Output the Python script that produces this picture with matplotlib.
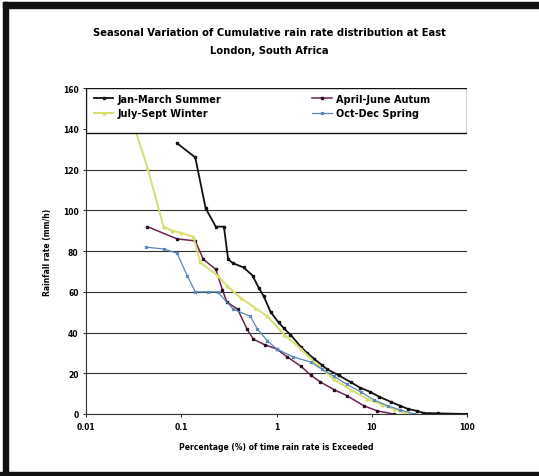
import matplotlib.pyplot as plt
from matplotlib.patches import Rectangle

# cumulative rain rate distribution per season (percentage of time exceeded vs rain rate)
summer_x = [0.09, 0.14, 0.18, 0.23, 0.28, 0.31, 0.35, 0.45, 0.56, 0.65, 0.73, 0.87, 1.05, 1.2, 1.4,
            1.8, 2.1, 2.5, 3.0, 3.4, 4.5, 6.0, 7.5, 9.7, 12, 15.8, 20, 24, 30, 35, 50, 100]
summer_y = [133, 126, 101, 92, 92, 76, 74, 72, 68, 62, 58, 50, 45, 42, 39,
            33, 30, 27, 24, 22, 19, 15.7, 13, 10.8, 8.5, 6, 4, 2.5, 1.5, 0.5, 0.3, 0]

autumn_x = [0.044, 0.09, 0.14, 0.17, 0.23, 0.27, 0.30, 0.39, 0.49, 0.57, 0.75, 1.0, 1.3,
            1.8, 2.3, 2.9, 4.0, 5.5, 8.3, 11.5, 17]
autumn_y = [92, 86, 85, 76, 71, 61, 55, 51.5, 41.7, 36.8, 34, 32, 28,
            23.5, 19, 15.7, 12, 9, 4, 1.5, 0]

winter_x = [0.03, 0.044, 0.065, 0.08, 0.098, 0.134, 0.158, 0.24, 0.30, 0.42, 0.60, 0.80, 1.2,
            1.8, 2.7, 4.0, 6.0, 9.0, 13, 17, 24]
winter_y = [145, 121, 92, 90, 89, 87, 74.5, 68, 63, 57, 52, 48, 39,
            32, 24, 17, 12, 7.4, 4.5, 2.5, 0]

spring_x = [0.042, 0.065, 0.09, 0.115, 0.14, 0.19, 0.24, 0.35, 0.53, 0.63, 0.80, 1.0, 1.5,
            2.3, 3.0, 4.0, 5.5, 7.7, 10.5, 14.7, 20, 28]
spring_y = [82, 81, 79, 68, 60, 60, 60, 51.5, 48, 41.7, 36, 32, 28,
            25.5, 22, 18.6, 14.5, 10.8, 7, 4, 2, 0]

fig = plt.figure(figsize=(5.39, 4.77), dpi=100)
ax = fig.add_axes([0.16, 0.13, 0.706, 0.683])

l1, = ax.plot(summer_x, summer_y, color='#111111', lw=1.3, marker='s', ms=2, label='Jan-March Summer')
l2, = ax.plot(autumn_x, autumn_y, color='#6a2450', lw=1.1, marker='s', ms=2, mfc='#2a1020',
              mec='#2a1020', label='April-June Autum')
l3, = ax.plot(winter_x, winter_y, color='#d9de6c', lw=1.4, marker='^', ms=2, label='July-Sept Winter')
l4, = ax.plot(spring_x, spring_y, color='#5a88b8', lw=0.9, marker='x', ms=2, label='Oct-Dec Spring')

ax.set_xscale('log')
ax.set_xlim(0.01, 100)
ax.set_ylim(0, 160)
ax.set_xticks([0.01, 0.1, 1, 10, 100])
ax.set_xticklabels(['0.01', '0.1', '1', '10', '100'])
ax.set_yticks(range(0, 161, 20))
ax.minorticks_off()
ax.tick_params(labelsize=5.5, length=2, width=0.6)
for lab in ax.get_xticklabels() + ax.get_yticklabels():
    lab.set_fontweight('bold')

ax.yaxis.grid(True, color='#333333', lw=0.8)
ax.set_axisbelow(True)
ax.spines['top'].set_visible(False)
ax.spines['right'].set_visible(False)
ax.spines['left'].set_color('#333333')
ax.spines['bottom'].set_color('#333333')

ax.set_xlabel('Percentage (%) of time rain rate is Exceeded', fontsize=5.5,
              fontweight='bold', labelpad=8)
ax.set_ylabel('Rainfall rate (mm/h)', fontsize=5.5, fontweight='bold', labelpad=8)

# legend box across the top of the plot area
ax.add_patch(Rectangle((0, 0.8625), 1, 0.1375, transform=ax.transAxes, facecolor='white',
                       edgecolor='#111111', lw=1.0, zorder=4))

# two rows: summer/autumn on top, winter/spring below
leg = ax.legend([l1, l3, l2, l4], [l.get_label() for l in (l1, l3, l2, l4)],
                ncol=2, loc='upper left', bbox_to_anchor=(0.01, 0.995),
                fontsize=7, frameon=False, borderaxespad=0,
                handlelength=2.0, handletextpad=0.4, columnspacing=9.4, borderpad=0.4,
                labelspacing=0.45)
leg.set_zorder(5)
for t in leg.get_texts():
    t.set_fontweight('bold')

fig.text(0.5, 0.912, 'Seasonal Variation of Cumulative rain rate distribution at East\nLondon, South Africa',
         ha='center', va='center', fontsize=7.2, fontweight='bold', linespacing=1.9)

# outer frame (left, top, bottom bars)
W, H = 539, 477
fig.add_artist(Rectangle((3 / W, 0), 5 / W, 1 - 3 / H, transform=fig.transFigure, color='#111111'))
fig.add_artist(Rectangle((3 / W, 1 - 9 / H), 1, 6 / H, transform=fig.transFigure, color='#111111'))
fig.add_artist(Rectangle((0, 0), 1, 4 / H, transform=fig.transFigure, color='#111111'))

fig.savefig('out.png', dpi=100)
